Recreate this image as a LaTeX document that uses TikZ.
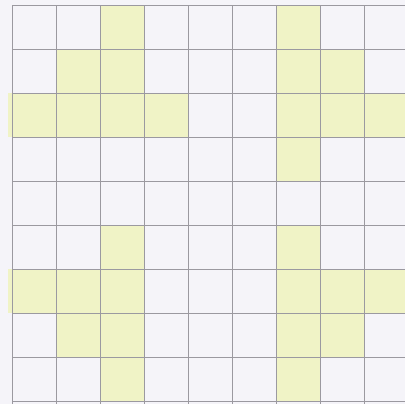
\documentclass[tikz,border=0pt]{standalone}
\definecolor{paper}{RGB}{245,244,249}
\definecolor{marker}{RGB}{240,243,198}
\definecolor{pencil}{RGB}{155,153,160}

\begin{document}
\begin{tikzpicture}[
    cell/.style={fill=marker, draw=none},
    gridline/.style={draw=pencil, line width=0.45pt},
]

% Paper sheet, fixes the margins
\fill[paper] (-0.273,0.114) rectangle (8.932,-9.068);
\useasboundingbox (-0.273,0.114) rectangle (8.932,-9.068);
\clip (-0.273,0.114) rectangle (8.932,-9.068);

% Coloured cells (column/row, row 0 at the top)
\foreach \c/\r in {2/0, 1/1, 2/1, 1/2, 2/2, 3/2,
                   6/0, 6/1, 7/1, 6/2, 7/2, 8/2, 6/3,
                   2/5, 1/6, 2/6, 1/7, 2/7, 2/8,
                   6/5, 6/6, 7/6, 8/6, 6/7, 7/7, 6/8}
    \fill[cell] (\c,-\r) rectangle (\c+1,-\r-1);

% Cells on the left border bleed over the edge
\fill[cell] (-0.09,-2) rectangle (1,-3);
\fill[cell] (-0.09,-6) rectangle (1,-7);

% Grid
\foreach \x in {0,...,9}
    \draw[gridline] (\x,0) -- (\x,-9.2);
\foreach \y in {0,...,9}
    \draw[gridline] (0,-\y) -- (9.2,-\y);

\end{tikzpicture}
\end{document}
